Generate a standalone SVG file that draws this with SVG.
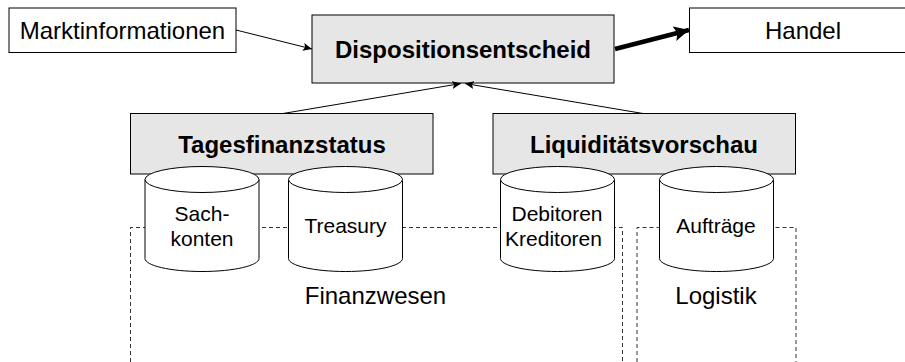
<svg xmlns="http://www.w3.org/2000/svg" width="905" height="362" viewBox="0 0 905 362">
<style>
text{font-family:"Liberation Sans",Arial,sans-serif;fill:#000;text-anchor:middle}
.l{font-size:24px}.m{font-size:21px}.b{font-size:24px;font-weight:bold}
.box{fill:#fff;stroke:#000;stroke-width:1}
.grey{fill:#e6e6e6;stroke:#000;stroke-width:1}
.cyl{fill:#fff;stroke:#000;stroke-width:1}
.dash{fill:none;stroke:#333;stroke-width:1;stroke-dasharray:4 3}
.c{stroke:#000;fill:none}
</style>
<defs>
<marker id="a" markerUnits="userSpaceOnUse" markerWidth="9" markerHeight="8" refX="9" refY="4" orient="auto"><path d="M0 0L9 4L0 8L2 4Z" fill="#000"/></marker>
<marker id="h" markerUnits="userSpaceOnUse" markerWidth="15" markerHeight="15" refX="15" refY="7.5" orient="auto"><path d="M0 0L15 7.5L0 15L3 7.5Z" fill="#000"/></marker>
<g id="cy"><path class="cyl" d="M0 13V92C0 99 25 105 57 105S114 99 114 92V13"/><ellipse class="cyl" cx="57" cy="13" rx="57" ry="13"/></g>
</defs>
<path class="dash" d="M130.500 362V227.500H622.500V362"/>
<path class="dash" d="M637 362V227.500H796V362"/>
<g id="markt"><rect class="box" x="9" y="8" width="227" height="44.500"/><text class="l" x="122.500" y="39">Marktinformationen</text></g>
<g id="dispo"><rect class="grey" x="312" y="15" width="302" height="68"/><text class="b" x="463" y="58">Dispositionsentscheid</text></g>
<g id="handel"><rect class="box" x="689.500" y="8" width="220" height="44.500"/><text class="l" x="803" y="39">Handel</text></g>
<g id="tages"><rect class="grey" x="130.500" y="113.500" width="302.500" height="60.500"/><text class="b" x="282" y="153">Tagesfinanzstatus</text></g>
<g id="liquid"><rect class="grey" x="493" y="113.500" width="302.500" height="60.500"/><text class="b" x="644" y="153">Liquiditätsvorschau</text></g>
<g id="sach"><use href="#cy" x="145" y="166.500"/><text class="m" x="202" y="221">Sach-</text><text class="m" x="202" y="246">konten</text></g>
<g id="treasury"><use href="#cy" x="288.500" y="166.500"/><text class="m" x="345.500" y="233">Treasury</text></g>
<g id="debitoren"><use href="#cy" x="500.500" y="166.500"/><text class="m" x="557" y="221">Debitoren</text><text class="m" x="553.500" y="246">Kreditoren</text></g>
<g id="auftraege"><use href="#cy" x="659.500" y="166.500"/><text class="m" x="716" y="233">Aufträge</text></g>
<text class="l" x="375.500" y="304">Finanzwesen</text>
<text class="l" x="716" y="304">Logistik</text>
<g id="connectors">
<path class="c" marker-end="url(#a)" d="M236 30L312 49"/>
<path class="c" marker-end="url(#a)" d="M283 113.500L461 83.500"/>
<path class="c" marker-end="url(#a)" d="M643 113.500L465 83.500"/>
<path class="c" style="stroke-width:4.500" marker-end="url(#h)" d="M615 49L689 30"/>
</g>
</svg>
